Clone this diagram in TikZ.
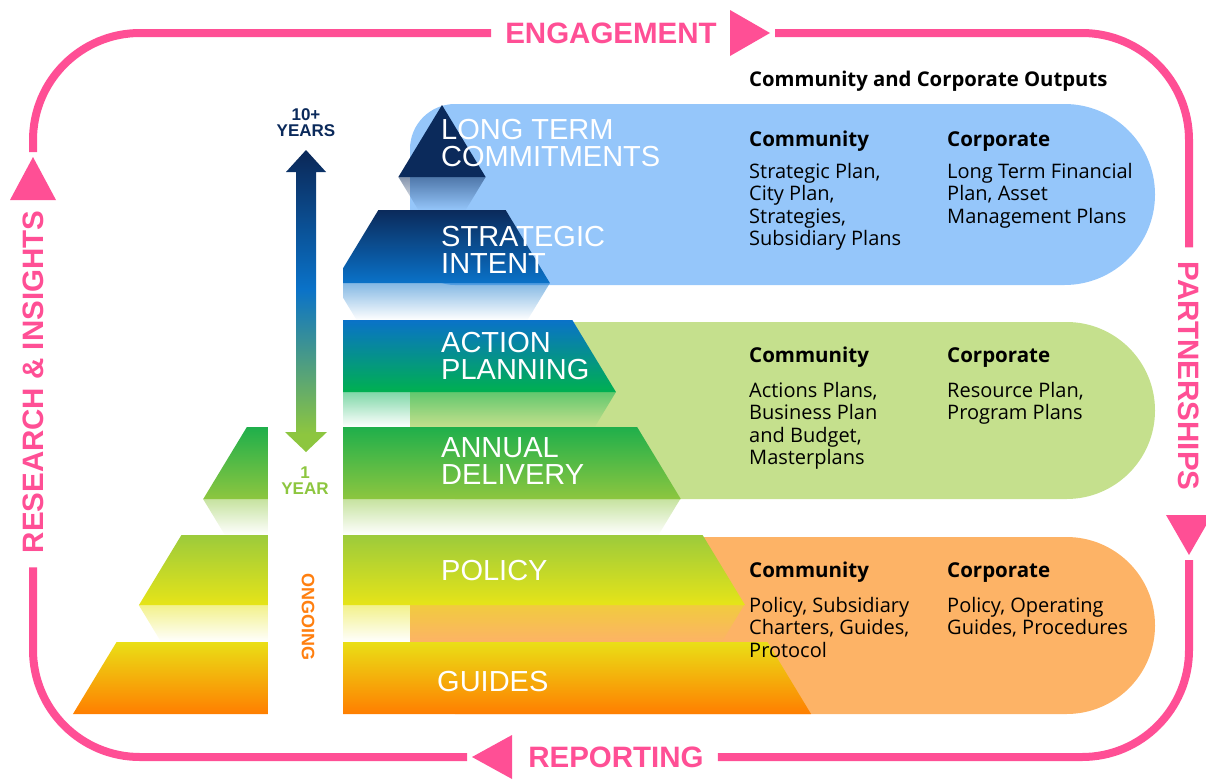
\documentclass[tikz,border=0pt]{standalone}
\usepackage{fontspec}
\setmainfont{Liberation Sans}
\newfontfamily\outfont{Open Sans}
\usetikzlibrary{fadings}

\definecolor{pinkc}{HTML}{FF4F95}
\definecolor{navy}{HTML}{0B2A5B}
\definecolor{bandblue}{HTML}{0A72C8}
\definecolor{bandgreen}{HTML}{00B050}
\definecolor{deliv}{HTML}{1FAF4B}
\definecolor{yeargreen}{HTML}{8DC63F}
\definecolor{polgreen}{HTML}{9CCB3B}
\definecolor{polyellow}{HTML}{E6E418}
\definecolor{guiyellow}{HTML}{EADF16}
\definecolor{guiorange}{HTML}{FF7E00}
\definecolor{bubblue}{HTML}{95C6FA}
\definecolor{bubgreen}{HTML}{C5E08D}
\definecolor{buborange}{HTML}{FDB366}
\definecolor{ongoing}{HTML}{FF7F0F}

% arrow colours, box mapped on 25bp..75bp
\pgfdeclareverticalshading{yearshade}{100bp}{color(0bp)=(yeargreen);
  color(28bp)=(yeargreen); color(40bp)=(yeargreen!50!bandblue);
  color(52bp)=(bandblue); color(74bp)=(navy); color(100bp)=(navy)}

\tikzset{
  frame/.style={draw=pinkc, line width=8pt, rounded corners=107pt},
  looplabel/.style={text=pinkc, font=\fontsize{29.5}{30}\selectfont\bfseries,
    inner xsep=14pt, inner ysep=0pt},
  layer/.style={text=white, font=\fontsize{29}{27}\selectfont, align=left,
    anchor=west, inner sep=0pt},
  timelabel/.style={font=\fontsize{17}{16}\selectfont\bfseries, align=center,
    inner sep=0pt},
  head/.style={font=\outfont\fontsize{20.5}{22.5}\selectfont\bfseries,
    anchor=base west, inner sep=0pt},
  body/.style={font=\outfont\fontsize{20}{22.5}\selectfont, align=left,
    anchor=north west, inner sep=0pt},
}

\begin{document}
\begin{tikzpicture}[x=1pt,y=-1pt]
\useasboundingbox (0,0) rectangle (1206,779);

% output bubbles
\fill[bubblue] [rounded corners=45pt] (700,104) -- (410,104) -- (410,285) -- (700,285)
  [rounded corners=90.5pt] -- (1155,285) -- (1155,104) -- cycle;
\fill[bubgreen] [rounded corners=45pt] (700,322) -- (410,322) -- (410,499) -- (700,499)
  [rounded corners=88.5pt] -- (1155,499) -- (1155,322) -- cycle;
\fill[buborange] [rounded corners=45pt] (700,537) -- (410,537) -- (410,714) -- (700,714)
  [rounded corners=88.5pt] -- (1155,714) -- (1155,537) -- cycle;

% pyramid
\fill[navy] (442,105) -- ({442+0.606*72},177) -- ({442-0.606*72},177) -- cycle;
\foreach \ya/\yb/\ctop/\cbot in {210/283/navy/bandblue, 320/392/bandblue/bandgreen,
    427/499/deliv/yeargreen, 535/605/polgreen/polyellow, 642/714/guiyellow/guiorange}
  \shade[top color=\ctop, bottom color=\cbot]
    ({442-0.606*(\ya-105)},\ya) -- ({442+0.606*(\ya-105)},\ya)
    -- ({442+0.606*(\yb-105)},\yb) -- ({442-0.606*(\yb-105)},\yb) -- cycle;
% reflections
\foreach \ya/\yb/\c in {177/210/navy, 283/320/bandblue, 392/427/bandgreen,
    499/535/yeargreen, 605/642/polyellow}
  \fill[\c, opacity=0.5, path fading=south]
    ({442-0.606*(\ya-105)},\ya) -- ({442+0.606*(\ya-105)},\ya)
    -- ({442+0.606*(2*\ya-\yb-105)},\yb) -- ({442-0.606*(2*\ya-\yb-105)},\yb) -- cycle;

% time strip
\fill[white] (268,95) rectangle (343,722);
\shade[shading=yearshade]
  (306,150) -- (326,172) -- (316,172) -- (316,432) -- (327,432) -- (306,452)
  -- (285,432) -- (296,432) -- (296,172) -- (286,172) -- cycle;
\node[timelabel, text=navy] (tTen) at (306,123) {10+\\YEARS};
\node[timelabel, text=yeargreen] (tOne) at (305,481) {1\\YEAR};
\node[timelabel, text=ongoing, rotate=-90, font=\fontsize{18}{18}\selectfont\bfseries]
  (tOngoing) at (308,617) {ONGOING};

% layer names
\node[layer] (tLong) at (441,143) {LONG TERM\\COMMITMENTS};
\node[layer] (tStrat) at (441,250) {STRATEGIC\\INTENT};
\node[layer] (tAct) at (441,356) {ACTION\\PLANNING};
\node[layer] (tAnn) at (441,461) {ANNUAL\\DELIVERY};
\node[layer] (tPol) at (441,571) {POLICY};
\node[layer] (tGui) at (437,682) {GUIDES};

% outputs
\node[head, font=\outfont\fontsize{20.3}{22}\selectfont\bfseries] (tOut) at (749,86)
  {Community and Corporate Outputs};
\node[head] (hComL) at (749,146) {Community};
\node[head] (hCorL) at (947,146) {Corporate};
\node[body] (bComL) at (749,163) {Strategic Plan,\\City Plan,\\Strategies,\\Subsidiary Plans};
\node[body] (bCorL) at (947,163) {Long Term Financial\\Plan, Asset\\Management Plans};
\node[head] (hComA) at (749,362) {Community};
\node[head] (hCorA) at (947,362) {Corporate};
\node[body] (bComA) at (749,382) {Actions Plans,\\Business Plan\\and Budget,\\Masterplans};
\node[body] (bCorA) at (947,382) {Resource Plan,\\Program Plans};
\node[head] (hComP) at (749,577) {Community};
\node[head] (hCorP) at (947,577) {Corporate};
\node[body] (bComP) at (749,597) {Policy, Subsidiary\\Charters, Guides,\\Protocol};
\node[body] (bCorP) at (947,597) {Policy, Operating\\Guides, Procedures};

% cycle round the framework
\node[looplabel] (lEng) at (611,33) {ENGAGEMENT};
\node[looplabel, rotate=-90] (lPart) at (1189,376) {PARTNERSHIPS};
\node[looplabel] (lRep) at (616,757) {REPORTING};
\node[looplabel, rotate=90] (lRes) at (33,382) {RESEARCH \& INSIGHTS};
\fill[pinkc] (730,10) -- (770,33) -- (730,56) -- cycle;
\fill[pinkc] (1166,515) -- (1212,515) -- (1189,555) -- cycle;
\fill[pinkc] (512,735) -- (472,757) -- (512,779) -- cycle;
\fill[pinkc] (10,200) -- (33,157) -- (56,200) -- cycle;
\coordinate (aEng) at (775,33);
\coordinate (aPart) at (1189,560);
\coordinate (aRep) at (467,757);
\coordinate (aRes) at (33,152);
\draw[frame] (aEng) -| (lPart.west);
\draw[frame] (aPart) |- (lRep.east);
\draw[frame] (aRep) -| (lRes.west);
\draw[frame] (aRes) |- (lEng.west);
\end{tikzpicture}
\end{document}
